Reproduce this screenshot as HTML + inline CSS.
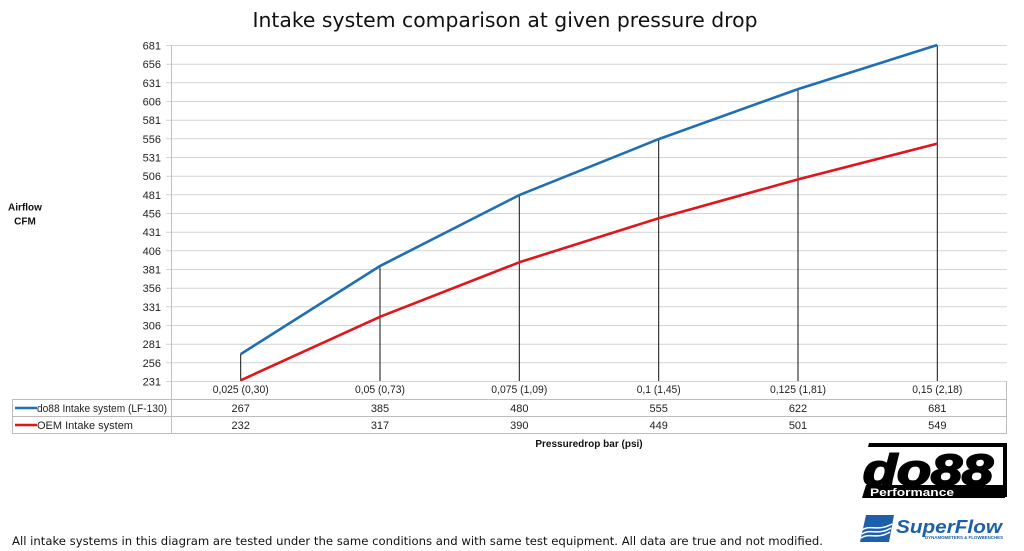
<!DOCTYPE html>
<html>
<head>
<meta charset="utf-8">
<style>
html,body{margin:0;padding:0;background:#fff;}
svg{display:block;}
</style>
</head>
<body>
<svg width="1024" height="551" viewBox="0 0 1024 551" xmlns="http://www.w3.org/2000/svg">
<rect width="1024" height="551" fill="#fff"/>
<!-- Title -->
<text x="505" y="27" text-anchor="middle" font-family="DejaVu Sans, Verdana, sans-serif" font-size="20" fill="#111" textLength="505" lengthAdjust="spacingAndGlyphs">Intake system comparison at given pressure drop</text>

<!-- gridlines -->
<g stroke="#d4d4d4" stroke-width="1">
<line x1="166" y1="45.5" x2="1007" y2="45.5"/>
<line x1="166" y1="64.2" x2="1007" y2="64.2"/>
<line x1="166" y1="82.8" x2="1007" y2="82.8"/>
<line x1="166" y1="101.5" x2="1007" y2="101.5"/>
<line x1="166" y1="120.2" x2="1007" y2="120.2"/>
<line x1="166" y1="138.8" x2="1007" y2="138.8"/>
<line x1="166" y1="157.5" x2="1007" y2="157.5"/>
<line x1="166" y1="176.2" x2="1007" y2="176.2"/>
<line x1="166" y1="194.8" x2="1007" y2="194.8"/>
<line x1="166" y1="213.5" x2="1007" y2="213.5"/>
<line x1="166" y1="232.2" x2="1007" y2="232.2"/>
<line x1="166" y1="250.8" x2="1007" y2="250.8"/>
<line x1="166" y1="269.5" x2="1007" y2="269.5"/>
<line x1="166" y1="288.2" x2="1007" y2="288.2"/>
<line x1="166" y1="306.8" x2="1007" y2="306.8"/>
<line x1="166" y1="325.5" x2="1007" y2="325.5"/>
<line x1="166" y1="344.2" x2="1007" y2="344.2"/>
<line x1="166" y1="362.8" x2="1007" y2="362.8"/>
<line x1="166" y1="381.5" x2="1007" y2="381.5"/>
</g>
<!-- left axis -->
<line x1="171.5" y1="45" x2="171.5" y2="434" stroke="#c0c0c0" stroke-width="1"/>

<!-- y tick labels -->
<g font-family="Liberation Sans, Arial, sans-serif" font-size="11" fill="#222" text-anchor="end">
<text x="161" y="49.5">681</text>
<text x="161" y="68.2">656</text>
<text x="161" y="86.8">631</text>
<text x="161" y="105.5">606</text>
<text x="161" y="124.2">581</text>
<text x="161" y="142.8">556</text>
<text x="161" y="161.5">531</text>
<text x="161" y="180.2">506</text>
<text x="161" y="198.8">481</text>
<text x="161" y="217.5">456</text>
<text x="161" y="236.2">431</text>
<text x="161" y="254.8">406</text>
<text x="161" y="273.5">381</text>
<text x="161" y="292.2">356</text>
<text x="161" y="310.8">331</text>
<text x="161" y="329.5">306</text>
<text x="161" y="348.2">281</text>
<text x="161" y="366.8">256</text>
<text x="161" y="385.5">231</text>
</g>

<!-- y axis title -->
<g font-family="Liberation Sans, Arial, sans-serif" font-size="10" font-weight="bold" fill="#111" text-anchor="middle">
<text x="25" y="210.5">Airflow</text>
<text x="25" y="224.5">CFM</text>
</g>

<!-- drop lines -->
<g stroke="#111" stroke-width="1">
<line x1="240.7" y1="354" x2="240.7" y2="381"/>
<line x1="380" y1="266" x2="380" y2="381"/>
<line x1="519.3" y1="195" x2="519.3" y2="381"/>
<line x1="658.7" y1="139" x2="658.7" y2="381"/>
<line x1="798" y1="89" x2="798" y2="381"/>
<line x1="937.3" y1="45" x2="937.3" y2="381"/>
</g>

<!-- series -->
<polyline fill="none" stroke="#1f6fb2" stroke-width="2.6" stroke-linejoin="round" points="240.7,354.1 380,266 519.3,195.1 658.7,139.1 798,89.1 937.3,45"/>
<polyline fill="none" stroke="#e0161b" stroke-width="2.6" stroke-linejoin="round" points="240.7,380.3 380,316.8 519.3,262.3 658.7,218.2 798,179.4 937.3,143.6"/>

<!-- data table -->
<g stroke="#bdbdbd" stroke-width="1" fill="none">
<line x1="12" y1="399.5" x2="1007" y2="399.5"/>
<line x1="12" y1="416.5" x2="1007" y2="416.5"/>
<line x1="12" y1="433.5" x2="1007" y2="433.5"/>
<line x1="12.5" y1="399" x2="12.5" y2="434"/>
<line x1="1006.5" y1="381" x2="1006.5" y2="434"/>
</g>
<g font-family="Liberation Sans, Arial, sans-serif" font-size="11" fill="#222" text-anchor="middle">
<text x="240.7" y="393" textLength="56" lengthAdjust="spacingAndGlyphs">0,025 (0,30)</text>
<text x="380" y="393" textLength="50" lengthAdjust="spacingAndGlyphs">0,05 (0,73)</text>
<text x="519.3" y="393" textLength="56" lengthAdjust="spacingAndGlyphs">0,075 (1,09)</text>
<text x="658.7" y="393" textLength="44" lengthAdjust="spacingAndGlyphs">0,1 (1,45)</text>
<text x="798" y="393" textLength="56" lengthAdjust="spacingAndGlyphs">0,125 (1,81)</text>
<text x="937.3" y="393" textLength="50" lengthAdjust="spacingAndGlyphs">0,15 (2,18)</text>
<text x="240.7" y="412">267</text>
<text x="380" y="412">385</text>
<text x="519.3" y="412">480</text>
<text x="658.7" y="412">555</text>
<text x="798" y="412">622</text>
<text x="937.3" y="412">681</text>
<text x="240.7" y="429">232</text>
<text x="380" y="429">317</text>
<text x="519.3" y="429">390</text>
<text x="658.7" y="429">449</text>
<text x="798" y="429">501</text>
<text x="937.3" y="429">549</text>
</g>
<line x1="15" y1="408" x2="37" y2="408" stroke="#1f6fb2" stroke-width="2.6"/>
<line x1="15" y1="425" x2="37" y2="425" stroke="#e0161b" stroke-width="2.6"/>
<g font-family="Liberation Sans, Arial, sans-serif" font-size="11" fill="#222">
<text x="37" y="412" textLength="130" lengthAdjust="spacingAndGlyphs">do88 Intake system (LF-130)</text>
<text x="37" y="429">OEM Intake system</text>
</g>

<!-- x axis title -->
<text x="589" y="447" text-anchor="middle" font-family="Liberation Sans, Arial, sans-serif" font-size="10" font-weight="bold" fill="#111">Pressuredrop bar (psi)</text>

<!-- footer -->
<text x="12" y="545" font-family="DejaVu Sans, Verdana, sans-serif" font-size="11.5" fill="#111" textLength="811" lengthAdjust="spacingAndGlyphs">All intake systems in this diagram are tested under the same conditions and with same test equipment. All data are true and not modified.</text>

<!-- do88 logo -->
<g>
<polygon points="869,443 1007,443 1007,447 868,447" fill="#000"/>
<polygon points="1003,443 1007,443 1007,497 1003,497" fill="#000"/>
<polygon points="866,485 1005,485 1005,498 862,498" fill="#000"/>
<text x="863" y="485" font-family="Liberation Sans, Arial, sans-serif" font-size="44" font-weight="bold" font-style="italic" fill="#000" stroke="#000" stroke-width="2" textLength="130" lengthAdjust="spacingAndGlyphs">do88</text>
<text x="870" y="496" font-family="Liberation Sans, Arial, sans-serif" font-size="11" font-weight="bold" fill="#fff" textLength="84" lengthAdjust="spacingAndGlyphs">Performance</text>
</g>

<!-- SuperFlow logo -->
<g>
<polygon points="866,515 894,515 889,542 860,542" fill="#1d5fa8"/>
<path d="M862,530 C870,524 878,532 892,524" stroke="#fff" stroke-width="1.5" fill="none"/>
<path d="M862,534 C870,528 878,536 891,528" stroke="#fff" stroke-width="1.5" fill="none"/>
<path d="M861,538 C869,532 877,540 890,532" stroke="#fff" stroke-width="1.5" fill="none"/>
<text x="896" y="533" font-family="Liberation Sans, Arial, sans-serif" font-size="18" font-weight="bold" font-style="italic" fill="#1d5fa8" textLength="106" lengthAdjust="spacingAndGlyphs">SuperFlow</text>
<text x="925" y="539" font-family="Liberation Sans, Arial, sans-serif" font-size="4.5" font-weight="bold" fill="#1d5fa8" textLength="78" lengthAdjust="spacingAndGlyphs">DYNAMOMETERS &amp; FLOWBENCHES</text>
</g>
</svg>
</body>
</html>
